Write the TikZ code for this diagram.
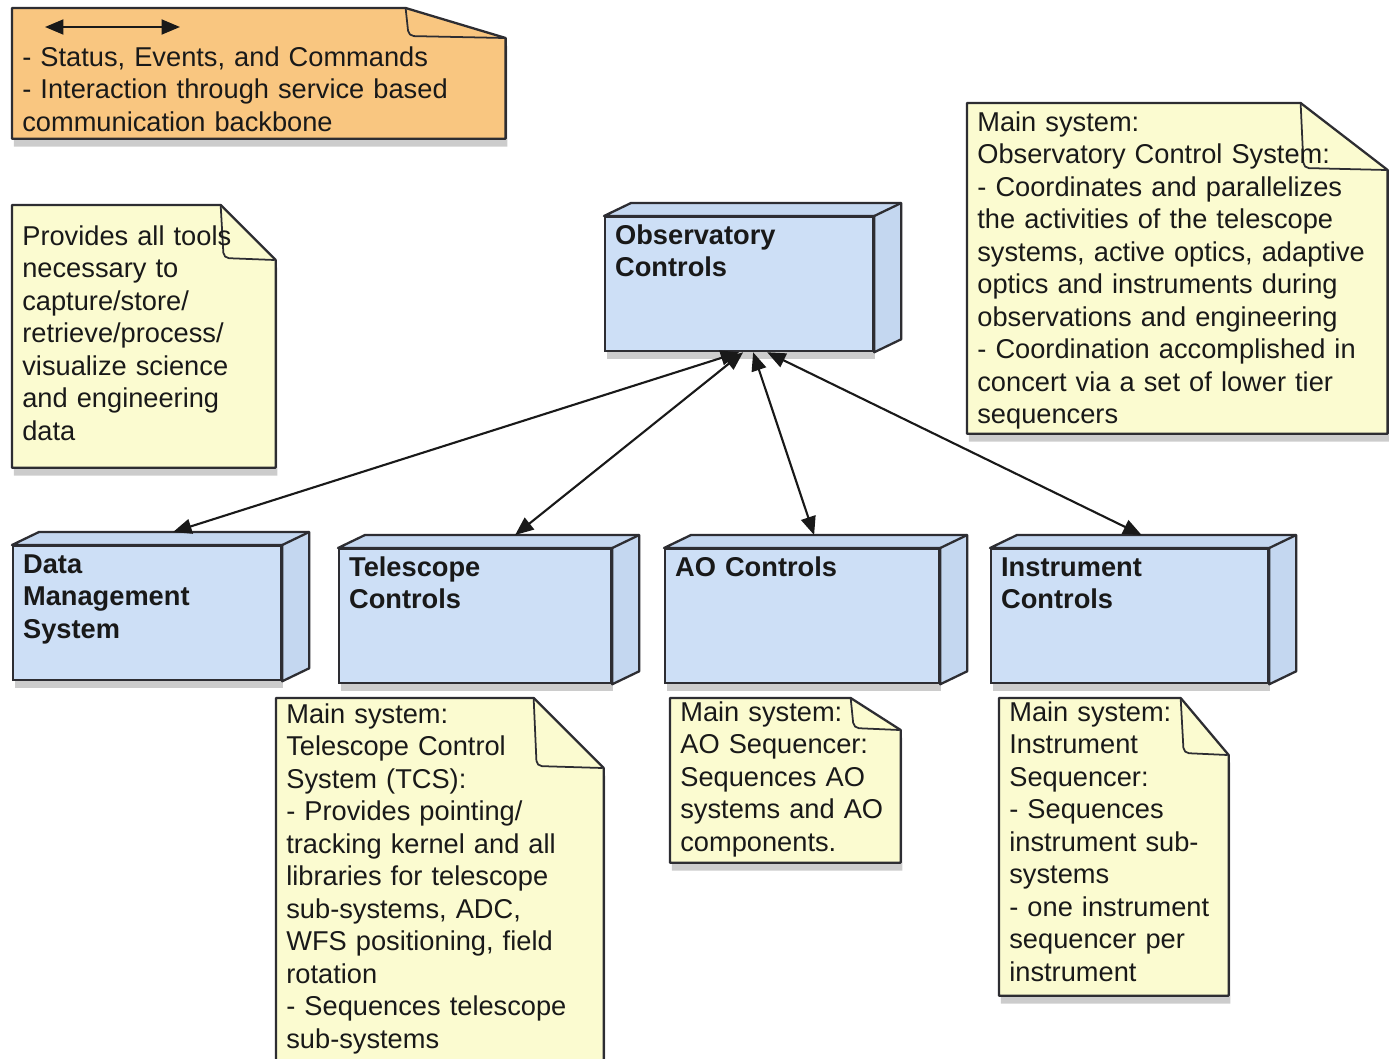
\documentclass[tikz,border=0pt]{standalone}
\usepackage{fontspec}
\setmainfont{Liberation Sans}
\usetikzlibrary{arrows.meta,positioning,shadows,backgrounds}
\definecolor{boxblue}{RGB}{205,223,246}
\definecolor{sideblue}{RGB}{196,215,240}
\definecolor{noteyellow}{RGB}{251,251,208}
\definecolor{legendorange}{RGB}{249,198,128}
\definecolor{edgegray}{RGB}{45,45,50}

\begin{document}
\begin{tikzpicture}[x=0.02cm, y=-0.02cm, >={Triangle[length=10.5pt,width=8.5pt]},
  every node/.style={font=\fontsize{15.5}{18.5}\selectfont, text=black!90},
  box3d/.style={draw=edgegray, line width=1.3pt, fill=boxblue, anchor=north west, align=left,
    font=\fontsize{15.5}{18.5}\selectfont\bfseries, inner xsep=0.2cm, inner ysep=0pt,
    text height=0.54cm, text depth=2.14cm,
    drop shadow={shadow xshift=1pt, shadow yshift=-4.5pt, opacity=0.4}},
  note/.style={anchor=north west, align=left, inner xsep=0.2cm, inner ysep=0pt},
  link/.style={<->, line width=1.2pt, draw=black!90}]
\useasboundingbox (0,0) rectangle (1389,1058);
\clip (0,0) rectangle (1389,1058);

\node[box3d, text width=4.96cm] (obs) at (604,216) {Observatory\\Controls};
\node[box3d, text width=4.96cm] (dms) at (12,545) {Data\\Management\\System};
\node[box3d, text width=5.04cm] (tcs) at (338,548) {Telescope\\Controls};
\node[box3d, text width=5.08cm] (aoc) at (664,548) {AO Controls};
\node[box3d, text width=5.14cm] (inst) at (990,548) {Instrument\\Controls};

\foreach \b in {obs,dms,tcs,aoc,inst} {
  \draw[edgegray, line width=1.3pt, fill=sideblue, line join=round] (\b.north west) -- ++(27,-13)
    -- ([shift={(27,-13)}]\b.north east) -- ([shift={(27,-13)}]\b.south east) -- (\b.south east)
    -- (\b.north east) -- cycle;
  \draw[edgegray, line width=1.3pt] (\b.north east) -- ++(27,-13);
}

\node[note, text width=9.46cm, text height=1.16cm, text depth=1.44cm] (legend) at (12,8)
  {- Status, Events, and Commands\\- Interaction through service based\\communication backbone};
\node[note, text width=4.86cm, text height=0.8cm, text depth=4.44cm] (dmsnote) at (12,205)
  {Provides all tools\\necessary to\\capture/store/\\retrieve/process/\\visualize science\\and engineering\\data};
\node[note, text width=8cm, text height=0.56cm, text depth=6.04cm] (ocsnote) at (967,103)
  {Main system:\\Observatory Control System:\\- Coordinates and parallelizes\\the activities of the telescope\\systems, active optics, adaptive\\optics and instruments during\\observations and engineering\\- Coordination accomplished in\\concert via a set of lower tier\\sequencers};
\node[note, text width=6.14cm, text height=0.5cm, text depth=6.94cm] (tcsnote) at (276,698)
  {Main system:\\Telescope Control\\System (TCS):\\- Provides pointing/\\tracking kernel and all\\libraries for telescope\\sub-systems, ADC,\\WFS positioning, field\\rotation\\- Sequences telescope\\sub-systems};
\node[note, text width=4.2cm, text height=0.46cm, text depth=2.82cm] (aonote) at (670,698)
  {Main system:\\AO Sequencer:\\Sequences AO\\systems and AO\\components.};
\node[note, text width=4.18cm, text height=0.46cm, text depth=5.48cm] (instnote) at (999,698)
  {Main system:\\Instrument\\Sequencer:\\- Sequences\\instrument sub-\\systems\\- one instrument\\sequencer per\\instrument};

\begin{scope}[on background layer]
\fill[white] (0,0) rectangle (1389,1058);
\foreach \n/\fw/\fh/\c in {legend/100/30/legendorange, dmsnote/55/55/noteyellow, ocsnote/87/67/noteyellow,
    tcsnote/70/70/noteyellow, aonote/50/32/noteyellow, instnote/48/57/noteyellow} {
  \draw[edgegray, line width=1.3pt, fill=\c, line join=round,
    drop shadow={shadow xshift=1pt, shadow yshift=-4.5pt, opacity=0.4}]
    (\n.north west) -- ([shift={(-\fw,0)}]\n.north east) -- ([shift={(0,\fh)}]\n.north east)
    -- (\n.south east) -- (\n.south west) -- cycle;
  \draw[edgegray, line width=1pt, rounded corners=3pt] ([shift={(-\fw,0)}]\n.north east)
    -- ([shift={(-\fw+3,\fh-2)}]\n.north east) -- ([shift={(-1,\fh)}]\n.north east);
}
\end{scope}

\coordinate (keyL) at ([shift={(33,19)}]legend.north west);
\coordinate (keyR) at ([shift={(168,19)}]legend.north west);
\draw[link] (keyL) -- (keyR);

\draw[link] (obs.south) -- ([shift={(26,-13)}]dms.north);
\draw[link] ([shift={(4,0)}]obs.south) -- ([shift={(40,-13)}]tcs.north);
\draw[link] ([shift={(14,0)}]obs.south) -- ([shift={(12,-13)}]aoc.north);
\draw[link] ([shift={(28,0)}]obs.south) -- ([shift={(12,-13)}]inst.north);
\end{tikzpicture}
\end{document}
